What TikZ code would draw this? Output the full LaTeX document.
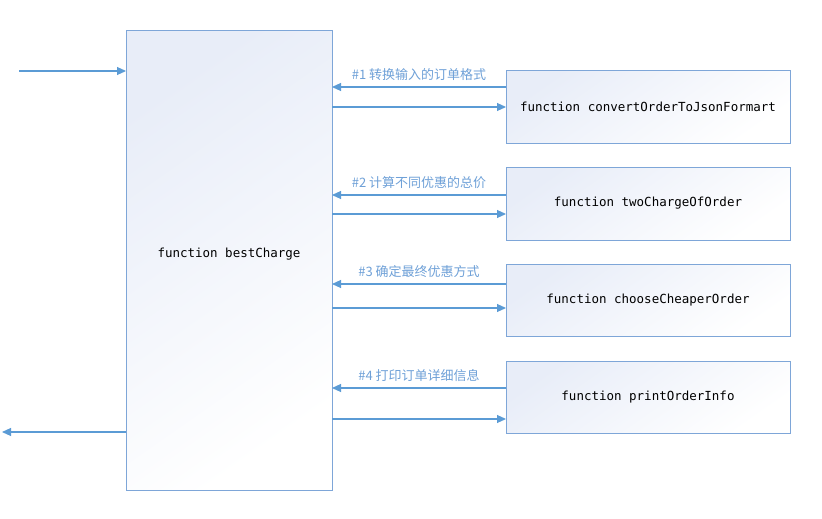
\documentclass[tikz,border=0pt]{standalone}
\usepackage{fontspec}
\setmonofont{DejaVu Sans Mono}
\newfontfamily\cjk{Noto Sans CJK SC}
\usetikzlibrary{arrows.meta}
\definecolor{lineblue}{RGB}{91,155,213}
\definecolor{boxblue}{RGB}{126,166,216}
\definecolor{labelblue}{RGB}{110,160,215}
\definecolor{gradblue}{RGB}{232,237,248}
\tikzset{
  fbox/.style={draw=boxblue, line width=1pt, top color=gradblue, bottom color=white, shading angle=35, inner sep=0pt},
  conn/.style={draw=lineblue, line width=1.1pt, -{Triangle[length=9pt,width=8pt]}},
  ftext/.style={font=\ttfamily\fontsize{12.5}{14}\selectfont, text=black},
  lbl/.style={font=\cjk\fontsize{13}{15}\selectfont, text=labelblue}
}
\begin{document}
\begin{tikzpicture}[x=1pt,y=-1pt]
\useasboundingbox (0,0) rectangle (822,519);
% main box
\path[fbox] (126,31) rectangle (332,490);
\node[ftext] (main) at (229,254) {function bestCharge};
\coordinate (inStart) at (19,71);
\coordinate (inEnd) at (126,71);
\coordinate (outStart) at (126,432);
\coordinate (outEnd) at (2,432);
\draw[conn] (inStart) -- (inEnd);
\draw[conn] (outStart) -- (outEnd);
% right boxes
\foreach \n/\ya/\yb/\yl/\yr/\txt/\lab in {
  1/71/143/87/107/{function convertOrderToJsonFormart}/{\#1 转换输入的订单格式},
  2/167/240/195/214/{function twoChargeOfOrder}/{\#2 计算不同优惠的总价},
  3/264/336/284/308/{function chooseCheaperOrder}/{\#3 确定最终优惠方式},
  4/361/433/388/419/{function printOrderInfo}/{\#4 打印订单详细信息}}{
  \path[fbox] (506,\ya) rectangle (790,\yb);
  \node[ftext] (f\n) at (648,{(\ya+\yb)/2}) {\txt};
  \coordinate (r\n a) at (506,\yl);
  \coordinate (l\n a) at (332,\yl);
  \coordinate (l\n b) at (332,\yr);
  \coordinate (r\n b) at (506,\yr);
  \draw[conn] (r\n a) -- (l\n a);
  \draw[conn] (l\n b) -- (r\n b);
  \node[lbl] (lab\n) at (419,{\yl-12}) {\lab};
}
\end{tikzpicture}
\end{document}
